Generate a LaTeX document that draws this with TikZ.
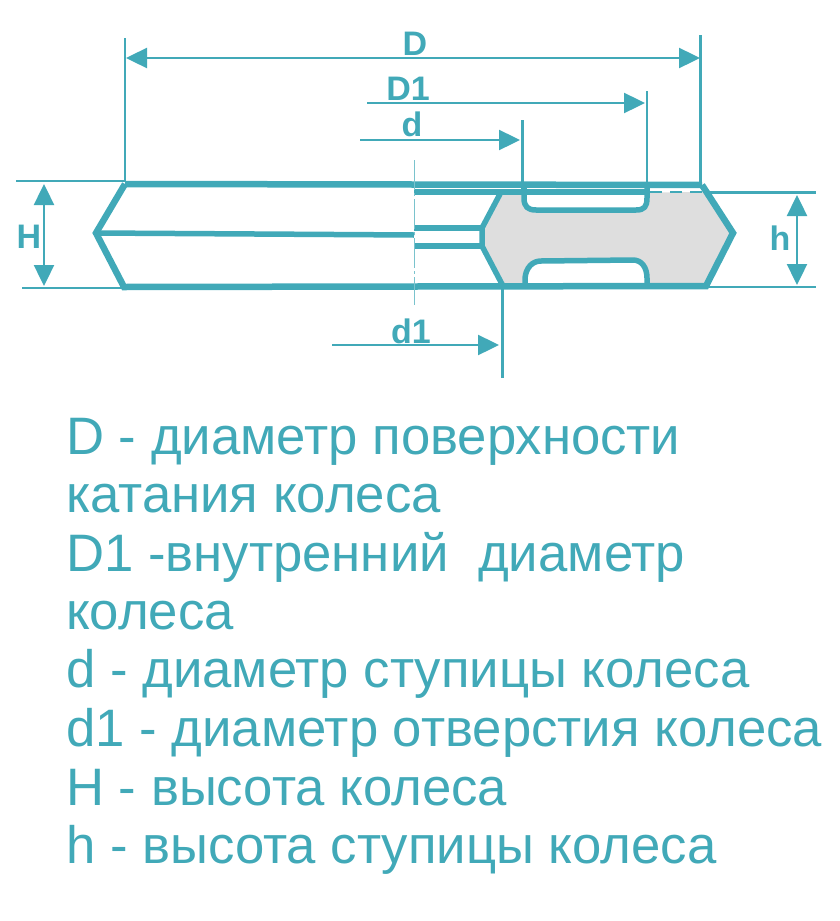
\documentclass[tikz,border=0pt]{standalone}
\usepackage{fontspec}
\setmainfont{Liberation Sans}
\usetikzlibrary{arrows.meta}
\definecolor{teal1}{HTML}{41A9B8}
\definecolor{hubgray}{HTML}{DEDEDE}
\tikzset{
  thin line/.style={draw=teal1,line width=2.4pt},
  thick line/.style={draw=teal1,line width=6.5pt,line join=miter},
  mid line/.style={draw=teal1,line width=5.5pt,line join=round},
  dim/.style={thin line,-{Triangle[length=21pt,width=20pt]},shorten >=0pt},
  dimboth/.style={thin line,{Triangle[length=21pt,width=20pt]}-{Triangle[length=21pt,width=20pt]}},
  dimlabel/.style={text=teal1,font=\fontsize{34}{34}\selectfont\bfseries,inner sep=0pt,anchor=base},
  legend/.style={text=teal1,font=\fontsize{52.7}{52.7}\selectfont,inner sep=0pt,anchor=base west},
}
\begin{document}
\begin{tikzpicture}[x=1pt,y=-1pt]
\useasboundingbox (0,0) rectangle (839,921);
% named points
\coordinate (tl) at (125,184);
\coordinate (tr) at (702,185);
\coordinate (ml) at (96,233);
\coordinate (mc) at (414,235);
\coordinate (bl) at (124,287);
\coordinate (br) at (706,286);
\coordinate (mr) at (733,233);
\coordinate (hubt) at (500,194);
\coordinate (hubu) at (482,228);
\coordinate (hubd) at (482,246);
\coordinate (hubb) at (503,286);
% gray hub
\fill[hubgray] (hubt) -- (hubu) -- (hubd) -- (hubb) -- (br) -- (mr) -- (703,192) -- cycle;
% white pockets
\fill[white] (524,192) -- (524,200) .. controls (524,208) and (528,210) .. (536,210) -- (636,210) .. controls (644,210) and (647,207) .. (647,200) -- (647,192) -- cycle;
\fill[white] (525,286) -- (525,278) .. controls (526,268) and (532,261) .. (541,261) -- (633,260) .. controls (642,260) and (647,268) .. (647,278) -- (647,286) -- cycle;
% outline
\draw[mid line] (414,192) -- (650,192);
\draw[teal1,line width=2.5pt,dash pattern=on 12pt off 8pt] (650,192) -- (703,192);
\draw[thick line] (tl) -- (tr);
\draw[thick line] (tl) -- (ml) -- (bl) -- (br) -- (mr) -- (tr);
\draw[mid line] (ml) -- (mc);
\draw[mid line] (414,228) -- (hubu);
\draw[mid line] (414,246) -- (hubd);
\draw[mid line] (hubt) -- (hubu) -- (hubd) -- (hubb);
\draw[mid line] (524,187) -- (524,198) .. controls (524,207) and (528,210) .. (536,210) -- (636,210) .. controls (644,210) and (647,207) .. (647,198) -- (647,187);
\draw[mid line] (525,286) -- (525,278) .. controls (526,268) and (532,261) .. (541,261) -- (633,260) .. controls (642,260) and (647,268) .. (647,278) -- (647,286);
% centre line
\draw[teal1!70,line width=1pt,dash pattern=on 30pt off 3pt on 3pt off 3pt] (414,160) -- (414,305);
% extension lines
\coordinate (e1a) at (125,38); \coordinate (e1b) at (125,181);
\coordinate (e2a) at (700.5,35); \coordinate (e2b) at (700.5,183);
\coordinate (e3a) at (647,91); \coordinate (e3b) at (647,187);
\coordinate (e4a) at (522.5,120); \coordinate (e4b) at (522.5,190);
\coordinate (e5a) at (502.5,287); \coordinate (e5b) at (502.5,378);
\foreach \p/\q in {e1a/e1b,e2a/e2b,e3a/e3b,e4a/e4b,e5a/e5b} \draw[thin line] (\p) -- (\q);
\coordinate (h1a) at (16,181); \coordinate (h1b) at (125,181);
\coordinate (h2a) at (22,288); \coordinate (h2b) at (122,288);
\coordinate (k1a) at (704,192.5); \coordinate (k1b) at (816,192.5);
\coordinate (k2a) at (706,287); \coordinate (k2b) at (816,287);
\foreach \p/\q in {h1a/h1b,h2a/h2b,k1a/k1b,k2a/k2b} \draw[thin line] (\p) -- (\q);
% dimension arrows
\coordinate (D0) at (126,58); \coordinate (D9) at (700,58);
\draw[dimboth] (D0) -- (D9);
\coordinate (E0) at (367,103); \coordinate (E9) at (645,103);
\draw[dim] (E0) -- (E9);
\coordinate (F0) at (360,140); \coordinate (F9) at (520,140);
\draw[dim] (F0) -- (F9);
\coordinate (G0) at (332,345); \coordinate (G9) at (499,345);
\draw[dim] (G0) -- (G9);
\coordinate (H0) at (44,184); \coordinate (H9) at (44,286);
\draw[dimboth] (H0) -- (H9);
\coordinate (I0) at (797,195); \coordinate (I9) at (797,285);
\draw[dimboth] (I0) -- (I9);
% dimension labels
\node[dimlabel] (lD) at (415,55) {D};
\node[dimlabel] (lD1) at (408,100) {D1};
\node[dimlabel] (ld) at (412,136) {d};
\node[dimlabel] (ld1) at (411,343) {d1};
\node[dimlabel] (lH) at (29,248) {H};
\node[dimlabel] (lh) at (780,250) {h};
% legend
\node[legend] (t1) at (66,454) {D - диаметр поверхности};
\node[legend] (t2) at (66,512) {катания колеса};
\node[legend] (t3) at (66,571) {D1 -внутренний\ \ диаметр};
\node[legend] (t4) at (66,629) {колеса};
\node[legend] (t5) at (66,687) {d - диаметр ступицы колеса};
\node[legend] (t6) at (66,746) {d1 - диаметр отверстия колеса};
\node[legend] (t7) at (66,805) {H - высота колеса};
\node[legend] (t8) at (66,863) {h - высота ступицы колеса};
\end{tikzpicture}
\end{document}
